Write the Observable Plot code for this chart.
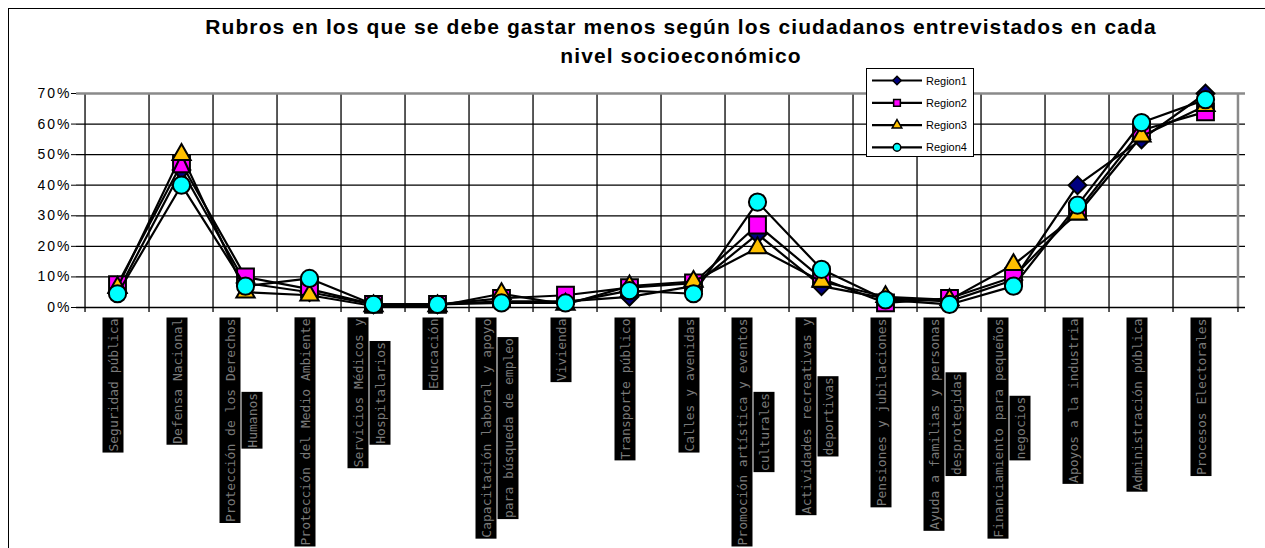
<!DOCTYPE html>
<html>
<head>
<meta charset="utf-8">
<script src="https://cdn.jsdelivr.net/npm/d3@7"></script>
<script src="https://cdn.jsdelivr.net/npm/@observablehq/plot@0.6"></script>
<style>
html, body { margin: 0; padding: 0; background: #fff; width: 1265px; height: 548px; overflow: hidden; }
#wrap { position: relative; width: 1265px; height: 548px; font-family: Arial, "Liberation Sans", sans-serif; }
#title { position: absolute; left: 81px; top: 12px; width: 1200px; text-align: center; font-weight: bold; font-size: 21px; line-height: 29px; letter-spacing: 1.1px; color: #000; }
#chart { position: absolute; left: 0; top: 70px; }
#legend { position: absolute; left: 866px; top: 68px; width: 108px; height: 89px; box-sizing: border-box; border: 1.5px solid #000; background: #fff; }
#border { position: absolute; left: 8px; top: 8px; width: 1300px; height: 600px; border-left: 1.5px solid #000; border-top: 1.5px solid #000; pointer-events: none; z-index: 5; }
#chart svg g[aria-label="y-axis tick label"] text { letter-spacing: 2px; }
</style>
</head>
<body>
<div id="wrap">
  <div id="title">Rubros en los que se debe gastar menos según los ciudadanos entrevistados en cada<br>nivel socioeconómico</div>
  <div id="chart"></div>
  <div id="legend"></div>
  <div id="border"></div>
</div>
<script>
// ---- data ----
const categories = [
  "Seguridad pública",
  "Defensa Nacional",
  "Protección de los Derechos\nHumanos",
  "Protección del Medio Ambiente",
  "Servicios Médicos y\nHospitalarios",
  "Educación",
  "Capacitación laboral y apoyo\npara búsqueda de empleo",
  "Vivienda",
  "Transporte público",
  "Calles y avenidas",
  "Promoción artística y eventos\nculturales",
  "Actividades recreativas y\ndeportivas",
  "Pensiones y jubilaciones",
  "Ayuda a familias y personas\ndesprotegidas",
  "Financiamiento para pequeños\nnegocios",
  "Apoyos a la industria",
  "Administración pública",
  "Procesos Electorales"
];
const seriesNames = ["Region1", "Region2", "Region3", "Region4"];
const region1 = [5, 45, 8, 5, 1, 1, 2, 2, 3.5, 7, 24, 7, 3, 2, 9, 40, 55, 70];
const region2 = [7.5, 47, 10, 6, 1, 1, 3, 4, 6.5, 8, 27, 9.5, 1.5, 3, 10, 31.5, 58, 64];
const region3 = [6.5, 50, 5, 4, 0.5, 0.5, 4.5, 1, 7, 8.5, 19.5, 8.5, 3.5, 2.5, 14, 30.5, 56, 66];
const region4 = [4.5, 40, 7, 9.5, 1, 1, 1.5, 1.5, 5.5, 4.5, 34.5, 12.5, 2.5, 1, 7, 33.5, 60.5, 68];
const yTicks = [0, 10, 20, 30, 40, 50, 60, 70];

// ---- styles ----
const values = [region1, region2, region3, region4];
const colors = ["#000080", "#FF00FF", "#FFC000", "#00FFFF"];
const symbols = [d3.symbolDiamond2 || d3.symbolDiamond, d3.symbolSquare, d3.symbolTriangle, d3.symbolCircle];
const radii = [8, 9.5, 6.8, 8.6];

const rows = seriesNames.flatMap((s, k) => values[k].map((v, i) => ({cat: categories[i], value: v, series: s})));

const singles = [], firsts = [], seconds = [];
categories.forEach(c => {
  const L = c.split("\n");
  if (L.length === 1) singles.push({cat: c, text: L[0]});
  else { firsts.push({cat: c, text: L[0]}); seconds.push({cat: c, text: L[1]}); }
});

const W = 1265, H = 478, mL = 76, mR = 20, mT = 23, mB = 241;
const step = (W - mL - mR) / categories.length;
const lbl = {x: "cat", text: "text", frameAnchor: "bottom", dy: 11, rotate: -90, textAnchor: "middle",
             fontFamily: "DejaVu Sans Mono", fontSize: 13, fill: "#7a7a7a"};

const plot = Plot.plot({
  width: W, height: H,
  marginLeft: mL, marginRight: mR, marginTop: mT, marginBottom: mB,
  style: {fontFamily: "Arial, 'Liberation Sans', sans-serif", fontSize: "14px", background: "transparent", color: "#000", overflow: "visible"},
  x: {type: "point", domain: categories, padding: 0.5, axis: null},
  y: {domain: [0, 70], ticks: yTicks, tickFormat: d => d + "%", tickSize: 5, tickPadding: 0, label: null},
  marks: [
    Plot.ruleY(yTicks.filter(d => d > 0 && d < 70), {stroke: "#000", strokeWidth: 1.3}),
    Plot.ruleX(categories, {dx: -step / 2, stroke: "#000", strokeWidth: 1.3, insetBottom: -5}),
    Plot.ruleX([categories[categories.length - 1]], {dx: step / 2, stroke: "#8a8a8a", strokeWidth: 2.5}),
    Plot.ruleX([categories[categories.length - 1]], {dx: step / 2, stroke: "#000", strokeWidth: 1.3, insetTop: 214, insetBottom: -5}),
    Plot.ruleY([70], {stroke: "#8a8a8a", strokeWidth: 2.5}),
    Plot.ruleY([0], {stroke: "#000", strokeWidth: 1.6}),
    ...seriesNames.flatMap((s, k) => {
      const d = rows.filter(r => r.series === s);
      return [
        Plot.line(d, {x: "cat", y: "value", stroke: "#000", strokeWidth: 2.2}),
        Plot.dot(d, {x: "cat", y: "value", symbol: symbols[k], r: radii[k], fill: colors[k], stroke: "#000", strokeWidth: 2})
      ];
    }),
    Plot.text(singles, {...lbl, ariaDescription: "lbl-single"}),
    Plot.text(firsts, {...lbl, dx: -11, ariaDescription: "lbl-first"}),
    Plot.text(seconds, {...lbl, dx: 11, ariaDescription: "lbl-second"})
  ]
});
document.getElementById("chart").appendChild(plot);

// black boxes behind the category labels, lines centred on each other
const items = [];
[["lbl-single", singles], ["lbl-first", firsts], ["lbl-second", seconds]].forEach(([k, data]) => {
  plot.querySelectorAll(`g[aria-description="${k}"] text`).forEach((t, i) => items.push({t, cat: data[i].cat}));
});
const maxLen = new Map();
items.forEach(it => { it.w = it.t.getComputedTextLength(); maxLen.set(it.cat, Math.max(maxLen.get(it.cat) || 0, it.w)); });
items.forEach(it => {
  const M = maxLen.get(it.cat);
  it.t.setAttribute("x", -M / 2);
  const b = it.t.getBBox();
  const r = document.createElementNS("http://www.w3.org/2000/svg", "rect");
  r.setAttribute("x", b.x - 1);
  r.setAttribute("y", b.y + b.height / 2 - 10.5);
  r.setAttribute("width", b.width + 2);
  r.setAttribute("height", 21);
  r.setAttribute("fill", "#000");
  const tr = it.t.getAttribute("transform");
  if (tr) r.setAttribute("transform", tr);
  it.t.parentNode.insertBefore(r, it.t);
});

// legend
const lg = d3.select("#legend").append("svg").attr("width", 105).attr("height", 86);
seriesNames.forEach((s, k) => {
  const cy = 11.5 + k * 22.3;
  lg.append("line").attr("x1", 5).attr("x2", 55).attr("y1", cy).attr("y2", cy).attr("stroke", "#000").attr("stroke-width", 2.2);
  lg.append("path").attr("transform", `translate(30,${cy})`)
    .attr("d", d3.symbol(symbols[k], k === 2 ? 40 : 45)())
    .attr("fill", colors[k]).attr("stroke", "#000").attr("stroke-width", 1.5);
  lg.append("text").attr("x", 59).attr("y", cy + 4).attr("font-size", 11)
    .attr("font-family", "Arial, 'Liberation Sans', sans-serif").text(s);
});
</script>
</body>
</html>
